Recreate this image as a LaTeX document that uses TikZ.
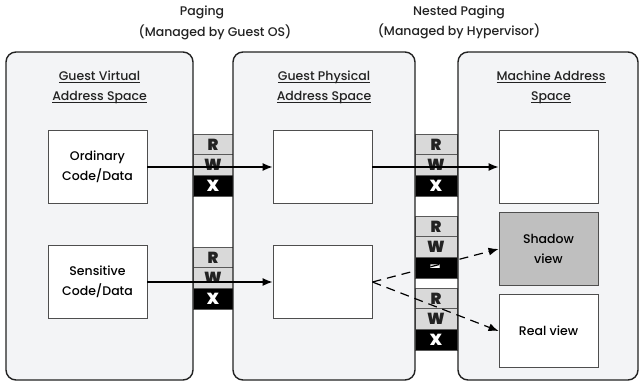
\documentclass[tikz,border=0pt]{standalone}
\usepackage{fontspec}
\setmainfont{Poppins}[UprightFont=* Medium,BoldFont=* Black]
\usetikzlibrary{arrows.meta}
\definecolor{panelgray}{HTML}{F3F4F6}
\definecolor{cellgray}{HTML}{D9D9D9}
\definecolor{shadowgray}{HTML}{BFBFBF}
\definecolor{ink}{HTML}{222222}
\newcommand\headul[1]{\setbox0\hbox{#1}\rlap{\rule[-3pt]{\wd0}{0.9pt}}\box0}
\tikzset{
  panel/.style={draw=ink,line width=1.4pt,fill=panelgray,rounded corners=10pt,
    minimum height=328pt,inner sep=0pt},
  membox/.style={draw=ink!80,line width=0.9pt,fill=white,minimum width=99pt,
    minimum height=73pt,align=center,inner sep=0pt},
  heading/.style={align=center,text=ink},
  cell/.style={draw=gray!70!black,line width=0.6pt,fill=cellgray,text=ink,
    minimum height=20.7pt,inner sep=0pt,font=\bfseries\fontsize{16}{16}\selectfont},
  xcell/.style={cell,fill=black,text=white},
  arr/.style={-{Latex[length=10pt,width=8pt]},line width=1.2pt,draw=black},
  darr/.style={arr,dash pattern=on 9pt off 6pt}
}
\begin{document}
\begin{tikzpicture}[x=1pt,y=-1pt,font=\fontsize{12.5}{20}\selectfont]
\useasboundingbox (0,0) rectangle (642,383);
% permission columns (drawn under the panels)
\foreach \cx/\cw/\cy/\xt/\nm in {213/40/134/X/pa,213/40/247/X/pb,436/42/134/X/na,
    436/42/216/{\fontsize{20}{20}\selectfont\raisebox{-6pt}[0pt][0pt]{-}}/nb,436/42/288/X/nc}{
  \node[cell,minimum width=\cw pt] (\nm-r) at (\cx,{\cy+10.35}) {R};
  \node[cell,minimum width=\cw pt] (\nm-w) at (\cx,{\cy+31.05}) {W};
  \node[xcell,minimum width=\cw pt] (\nm-x) at (\cx,{\cy+51.75}) {\xt};
}
% address spaces
\node[panel,minimum width=187pt] (gva) at (99.5,216) {};
\node[panel,minimum width=182pt] (gpa) at (324,216) {};
\node[panel,minimum width=180pt] (ma) at (548,216) {};
\node[heading] (gvat) at (99.5,87) {\headul{Guest Virtual}\\\headul{Address Space}};
\node[heading] (gpat) at (324,87) {\headul{Guest Physical}\\\headul{Address Space}};
\node[heading] (mat) at (551,87) {\headul{Machine Address}\\\headul{Space}};
% titles
\node[heading] (pgt) at (202,12) {Paging};
\node[heading] (pgs) at (215,32) {(Managed by Guest OS)};
\node[heading] (npt) at (459,22) {Nested Paging\\(Managed by Hypervisor)};
% memory regions
\node[membox] (ord) at (97.5,167) {Ordinary\\Code/Data};
\node[membox] (sens) at (97.5,282) {Sensitive\\Code/Data};
\node[membox] (gp1) at (322.5,167) {};
\node[membox] (gp2) at (322.5,282) {};
\node[membox] (mp1) at (548.5,167) {};
\node[membox,fill=shadowgray] (shadow) at (548.5,249) {Shadow\\view};
\node[membox] (real) at (548.5,331) {Real view};
% mappings
\draw[arr] (ord) -- (gp1);
\draw[arr] (gp1) -- (mp1);
\draw[arr] (sens) -- (gp2);
\draw[darr] (gp2.east) -- (shadow.west);
\draw[darr] (gp2.east) -- (real.west);
\end{tikzpicture}
\end{document}
